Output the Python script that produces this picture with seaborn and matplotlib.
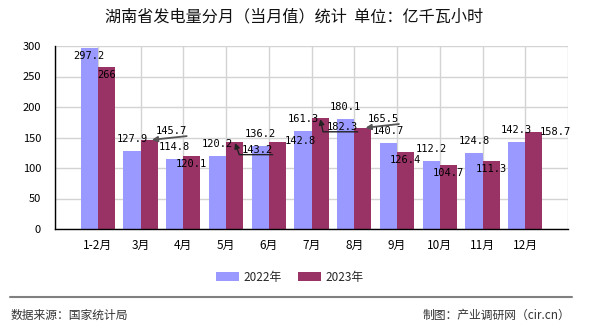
import matplotlib
matplotlib.use('Agg')
import matplotlib.pyplot as plt
import seaborn as sns
import pandas as pd
from matplotlib.patches import Patch
from matplotlib.lines import Line2D

# ---- data ----
months = ['1-2月', '3月', '4月', '5月', '6月', '7月', '8月', '9月', '10月', '11月', '12月']
v2022 = [297.2, 127.9, 114.8, 120.2, 136.2, 161.3, 180.1, 140.7, 112.2, 124.8, 142.3]
v2023 = [266, 145.7, 120.1, 143.2, 142.8, 182.3, 165.5, 126.4, 104.7, 111.3, 158.7]
series = ['2022年', '2023年']
yticks = [0, 50, 100, 150, 200, 250, 300]
title = '湖南省发电量分月（当月值）统计  单位：亿千瓦小时'
source = '数据来源：国家统计局'
credit = '制图：产业调研网（cir.cn）'

# ---- styles / label layout (pixel offsets from bar top) ----
colors = ['#9999FF', '#993366']
lab22 = [(0, -8, None)] + [(0, 12, None)] * 10
lab23 = [(0, -8, None), (22, 9, 'line'), (0, -8, None), (22.5, -8, 110),
         (23, 1, None), (22, -9, 102), (20.5, 9, 'line'), (0, -8, None),
         (0, -8, None), (0, -8, None), (21.5, 0, None)]

df = pd.DataFrame({
    'month': months * 2,
    'value': v2022 + v2023,
    'year': [series[0]] * len(months) + [series[1]] * len(months),
})

sns.set_theme(style='white')
plt.rcParams['font.family'] = ['Noto Sans CJK SC', 'DejaVu Sans']

W, H = 590, 330
fig = plt.figure(figsize=(W / 100, H / 100), dpi=100)
fig.patch.set_facecolor('white')
ax = fig.add_axes([55 / W, 1 - 229 / H, 513 / W, 183 / H])

sns.barplot(data=df, x='month', y='value', hue='year', order=months,
            hue_order=series, palette=colors, width=0.8, gap=0,
            errorbar=None, saturation=1, legend=False, ax=ax, zorder=2,
            linewidth=0, edgecolor='none')

ax.set_xlim(-1, len(months))
ax.set_ylim(0, 300)
ax.set_xticks(range(-1, len(months) + 1))
ax.set_xticklabels([''] + months + [''])
ax.set_yticks(yticks)
ax.set_yticklabels([str(t) for t in yticks])
ax.set_xlabel('')
ax.set_ylabel('')
ax.set_axisbelow(True)
ax.grid(True, color='#d3d3d3', lw=1)
for s in ['top', 'right']:
    ax.spines[s].set_visible(False)
for s in ['left', 'bottom']:
    ax.spines[s].set_color('black')
    ax.spines[s].set_linewidth(1)
ax.tick_params(axis='both', which='both', colors='black', length=5, width=1,
               direction='out', labelsize=8)
ax.tick_params(axis='x', pad=2, labelsize=8.5)
ax.tick_params(axis='y', pad=5)
ax.set_facecolor('white')

# data labels
mono = 'DejaVu Sans Mono'
for cont, specs, vals in zip(ax.containers, [lab22, lab23], [v2022, v2023]):
    for bar, (dx, dy, arr), v in zip(cont, specs, vals):
        x = bar.get_x() + bar.get_width() / 2
        y = bar.get_height()
        txt = f'{v:g}'
        if arr is None:
            ax.annotate(txt, xy=(x, y), xytext=(dx, dy), textcoords='offset pixels',
                        ha='center', va='center', fontsize=7.5, family=mono,
                        color='black', zorder=5)
        elif arr == 'line':
            ax.annotate(txt, xy=(x, y), xytext=(dx, dy), textcoords='offset pixels',
                        ha='center', va='center', fontsize=7.5, family=mono,
                        color='black', zorder=5,
                        arrowprops=dict(arrowstyle='-|>', color='#555555', lw=1.3,
                                        mutation_scale=8, relpos=(1, 0),
                                        patchA=None, shrinkA=0, shrinkB=2,
                                        connectionstyle='arc3'))
        else:
            ax.annotate(txt, xy=(x, y), xytext=(dx, dy), textcoords='offset pixels',
                        ha='center', va='center', fontsize=7.5, family=mono,
                        color='black', zorder=5,
                        arrowprops=dict(arrowstyle='-|>', color='#222222', lw=1,
                                        mutation_scale=8, relpos=(1, 0),
                                        patchA=None, shrinkA=0, shrinkB=1,
                                        connectionstyle=f'angle,angleA=0,angleB={arr},rad=0'))

# title
fig.text(0.499, 1 - 17 / H, title, ha='center', va='center', fontsize=11.6,
         color='#111111')

# legend
handles = [Patch(facecolor=c, edgecolor='none') for c in colors]
fig.legend(handles, series, loc='center', bbox_to_anchor=(290 / W, 1 - 277 / H),
           ncol=2, frameon=False, fontsize=8.5, handlelength=1.9,
           handleheight=0.75, handletextpad=0.4, columnspacing=1.4)

# footer
fig.add_artist(Line2D([10 / W, 572 / W], [1 - 297 / H] * 2, color='#808080',
                      lw=1.5, transform=fig.transFigure))
fig.text(11 / W, 1 - 315 / H, source, ha='left', va='center', fontsize=8.5,
         color='#333333')
fig.text(570 / W, 1 - 315 / H, credit, ha='right', va='center', fontsize=8.5,
         color='#333333')

fig.savefig('out.png', dpi=100)
